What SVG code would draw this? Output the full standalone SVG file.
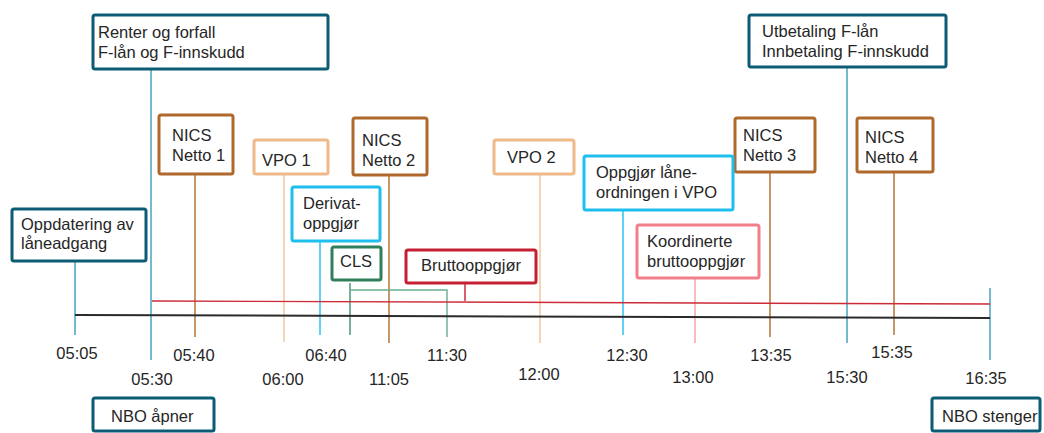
<svg xmlns="http://www.w3.org/2000/svg" width="1044" height="433" viewBox="0 0 1044 433">
<style>
text{font-family:"Liberation Sans",Arial,sans-serif;font-size:16.5px;fill:#262626}
.t{text-anchor:middle}
.box{fill:#fff;stroke-width:3}
.teal{stroke:#0d5c75}
.brown{stroke:#b0692c}
.lorange{stroke:#f0b98a}
.cyan{stroke:#1ebfee}
.green{stroke:#2f7f5b}
.red{stroke:#c42032}
.pink{stroke:#f17f88}
.ln{fill:none;stroke-width:1.4}
</style>
<rect width="1044" height="433" fill="#fff"/>
<g id="connectors">
<line class="ln" x1="151" y1="69" x2="151" y2="360" stroke="#3d9bb9"/>
<line class="ln" x1="847" y1="67" x2="847" y2="343" stroke="#3d9bb9"/>
<line class="ln" x1="75" y1="261" x2="75" y2="335" stroke="#3d9bb9"/>
<line class="ln" x1="990" y1="288" x2="990" y2="360" stroke="#3d9bb9"/>
<line class="ln" x1="195" y1="174" x2="195" y2="337" stroke="#b0692c"/>
<line class="ln" x1="389" y1="175" x2="389" y2="343" stroke="#b0692c"/>
<line class="ln" x1="770" y1="172" x2="770" y2="337" stroke="#b0692c"/>
<line class="ln" x1="894" y1="172" x2="894" y2="335" stroke="#b0692c"/>
<line class="ln" x1="284" y1="174" x2="284" y2="342" stroke="#f2c29a"/>
<line class="ln" x1="540" y1="174" x2="540" y2="343" stroke="#f2c29a"/>
<line class="ln" x1="320" y1="241" x2="320" y2="335" stroke="#1ebfee"/>
<line class="ln" x1="623" y1="210" x2="623" y2="335" stroke="#1ebfee"/>
<line class="ln" x1="695" y1="278" x2="695" y2="343" stroke="#f4a0a6"/>
<polyline class="ln" points="350,283 350,335" stroke="#3f8f6c"/>
<polyline class="ln" points="350,290 447,290 447,337" stroke="#6aae90"/>
<line class="ln" x1="465" y1="283" x2="465" y2="301" stroke="#c42032"/>
<line x1="152" y1="301" x2="990" y2="304" stroke="#cc2a36" stroke-width="1.4"/>
<line x1="75" y1="315" x2="990" y2="318" stroke="#2b2b2b" stroke-width="2"/>
</g>
<g id="renter"><rect class="box teal" x="93" y="15" width="235" height="54" rx="2"/><text x="98" y="38">Renter og forfall</text><text x="98" y="58">F-lån og F-innskudd</text></g>
<g id="utbetaling"><rect class="box teal" x="749" y="15" width="197" height="52" rx="2"/><text x="762" y="37">Utbetaling F-lån</text><text x="762" y="57">Innbetaling F-innskudd</text></g>
<g id="oppdatering"><rect class="box teal" x="12" y="209" width="134" height="52" rx="2"/><text x="21" y="230">Oppdatering av</text><text x="21" y="249">låneadgang</text></g>
<g id="nics1"><rect class="box brown" x="159" y="115" width="74" height="59" rx="2"/><text x="172" y="141">NICS</text><text x="172" y="161">Netto 1</text></g>
<g id="nics2"><rect class="box brown" x="353" y="118" width="74" height="57" rx="2"/><text x="362" y="146">NICS</text><text x="362" y="166">Netto 2</text></g>
<g id="nics3"><rect class="box brown" x="735" y="118" width="80" height="54" rx="2"/><text x="743" y="141">NICS</text><text x="743" y="161">Netto 3</text></g>
<g id="nics4"><rect class="box brown" x="857" y="118" width="76" height="54" rx="2"/><text x="865" y="143">NICS</text><text x="865" y="163">Netto 4</text></g>
<g id="vpo1"><rect class="box lorange" x="254" y="140" width="74" height="34" rx="2"/><text x="262" y="166">VPO 1</text></g>
<g id="vpo2"><rect class="box lorange" x="494" y="140" width="80" height="34" rx="2"/><text x="507" y="163">VPO 2</text></g>
<g id="derivat"><rect class="box cyan" x="292" y="187" width="88" height="54" rx="2"/><text x="303" y="209">Derivat-</text><text x="303" y="229">oppgjør</text></g>
<g id="cls"><rect class="box green" x="332" y="247" width="49" height="33" rx="2"/><text x="340" y="267">CLS</text></g>
<g id="brutto"><rect class="box red" x="406" y="250" width="130" height="33" rx="2"/><text x="421" y="271">Bruttooppgjør</text></g>
<g id="oppgjor"><rect class="box cyan" x="584" y="156" width="149" height="54" rx="2"/><text x="596" y="178">Oppgjør låne-</text><text x="596" y="198">ordningen i VPO</text></g>
<g id="koordinerte"><rect class="box pink" x="637" y="225" width="122" height="53" rx="2"/><text x="647" y="247">Koordinerte</text><text x="647" y="267">bruttooppgjør</text></g>
<g id="nbo-apner"><rect class="box teal" x="93" y="398" width="121" height="33" rx="2"/><text x="111" y="422">NBO åpner</text></g>
<g id="nbo-stenger"><rect class="box teal" x="932" y="398" width="108" height="33" rx="2"/><text x="942" y="422">NBO stenger</text></g>
<g id="times">
<text class="t" x="77" y="359">05:05</text>
<text class="t" x="152" y="385">05:30</text>
<text class="t" x="194" y="361">05:40</text>
<text class="t" x="283" y="385">06:00</text>
<text class="t" x="326" y="361">06:40</text>
<text class="t" x="389" y="385">11:05</text>
<text class="t" x="447" y="361">11:30</text>
<text class="t" x="539" y="380">12:00</text>
<text class="t" x="627" y="361">12:30</text>
<text class="t" x="693" y="383">13:00</text>
<text class="t" x="771" y="361">13:35</text>
<text class="t" x="847" y="383">15:30</text>
<text class="t" x="892" y="358">15:35</text>
<text class="t" x="986" y="384">16:35</text>
</g>
</svg>
